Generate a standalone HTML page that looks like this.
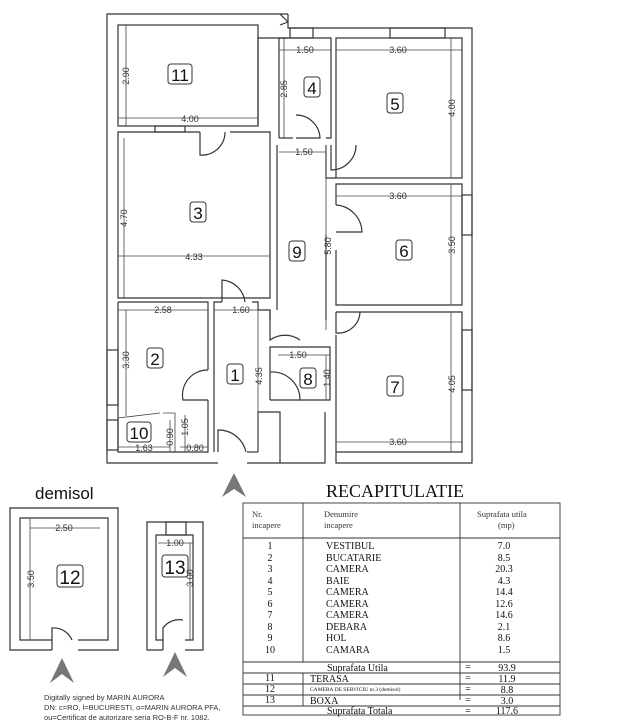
<!DOCTYPE html>
<html><head><meta charset="utf-8"><style>
html,body{margin:0;padding:0;background:#fff;}
svg{display:block;}
text{font-family:"Liberation Sans",sans-serif;}
.s, .s text{font-family:"Liberation Serif",serif;}
</style></head><body>
<svg width="618" height="720" viewBox="0 0 618 720" xmlns="http://www.w3.org/2000/svg">
<g fill="none" stroke="#333" stroke-width="1.2">
<polyline points="288,14 107,14 107,463 218,463"/>
<polyline points="247,463 325,463 325,412"/>
<polyline points="336,452 336,463 472,463 472,28 288,28 288,14"/>
<polyline points="258,126 258,38 288,38"/>
<rect x="118" y="25" width="140" height="101"/>
<line x1="280" y1="14" x2="288" y2="22"/><line x1="280" y1="25" x2="288" y2="22"/>
<polyline points="200,132 118,132 118,298 270,298 270,132 230,132"/>
<polyline points="279,138 279,38 331,38 331,138 326,138"/>
<line x1="279" y1="138" x2="293" y2="138"/>
<polyline points="277,145 277,310"/>
<polyline points="326,145 326,178 336,178"/>
<polyline points="326,235 326,320"/>
<rect x="336" y="38" width="126" height="140"/>
<polyline points="336,205 336,184 462,184 462,305 336,305 336,250"/>
<polyline points="336,335 336,452 462,452 462,312 336,312"/>
<polyline points="118,302 208,302 208,370"/>
<polyline points="208,400 208,452 118,452 118,302"/>
<polyline points="214,452 214,302 222,302"/>
<polyline points="252,302 258,302 258,310 270,310 270,320"/>
<polyline points="258,452 247,452"/>
<polyline points="258,452 258,412 270,412"/>
<polyline points="270,400 270,347 330,347 330,400 300,400"/>
<polyline points="270,412 280,412 280,463"/>
<rect x="155" y="126" width="30" height="6"/>
<rect x="290" y="28" width="23" height="10"/>
<rect x="390" y="28" width="55" height="10"/>
<rect x="462" y="195" width="10" height="40"/>
<rect x="462" y="330" width="10" height="60"/>
<rect x="107" y="350" width="11" height="55"/>
<rect x="107" y="420" width="11" height="30"/>
<path d="M200,132 L200,155 A23,23 0 0 0 225,132"/>
<path d="M296,138 L320,138 A24,24 0 0 0 296,115"/>
<path d="M331,145 L331,170 A25,25 0 0 0 356,145"/>
<path d="M336,205 A28,28 0 0 1 362,232 L336,232"/>
<path d="M336,312 L336,333 A22,22 0 0 0 360,312"/>
<path d="M222,302 L222,280 A25,25 0 0 1 245,302"/>
<path d="M270,310 L270,340 A26,26 0 0 1 300,340"/>
<path d="M208,400 L183,400 A25,25 0 0 1 208,370"/>
<path d="M270,400 L300,400 A28,28 0 0 0 270,372"/>
<path d="M218,452 L218,430 A28,28 0 0 1 246,452"/>
<polyline points="52,650 10,650 10,508 118,508 118,650 78,650"/>
<polyline points="52,640 20,640 20,518 108,518 108,640 78,640"/>
<path d="M52,650 L52,628 A20,20 0 0 1 72,640"/>
<polyline points="163,650 147,650 147,522 203,522 203,650 185,650"/>
<polyline points="163,640 156,640 156,535 193,535 193,640 185,640"/>
<rect x="166" y="522" width="20" height="13"/>
<path d="M163,650 L163,628 A20,20 0 0 1 183,620"/>
</g>
<g stroke="#444" stroke-width="0.8" fill="none">
<line x1="118" y1="118" x2="258" y2="118"/><line x1="126" y1="25" x2="126" y2="126"/>
<line x1="124" y1="138" x2="124" y2="298"/><line x1="118" y1="256" x2="270" y2="256"/>
<line x1="279" y1="50" x2="331" y2="50"/><line x1="284" y1="38" x2="284" y2="138"/>
<line x1="336" y1="50" x2="462" y2="50"/><line x1="451" y1="38" x2="451" y2="178"/>
<line x1="279" y1="152" x2="326" y2="152"/><line x1="326" y1="145" x2="326" y2="330"/>
<line x1="336" y1="196" x2="462" y2="196"/><line x1="451" y1="184" x2="451" y2="305"/>
<line x1="451" y1="312" x2="451" y2="452"/><line x1="336" y1="442" x2="462" y2="442"/>
<line x1="118" y1="310" x2="208" y2="310"/><line x1="126" y1="310" x2="126" y2="416"/>
<line x1="214" y1="310" x2="258" y2="310"/><line x1="258" y1="310" x2="258" y2="452"/>
<line x1="278" y1="355" x2="330" y2="355"/><line x1="326" y1="355" x2="326" y2="400"/>
<line x1="118" y1="447" x2="170" y2="447"/><line x1="180" y1="447" x2="208" y2="447"/>
<line x1="170" y1="420" x2="170" y2="452"/><line x1="185" y1="415" x2="185" y2="452"/>
<line x1="30" y1="528" x2="100" y2="528"/><line x1="30" y1="518" x2="30" y2="640"/>
<line x1="158" y1="543" x2="193" y2="543"/><line x1="190" y1="543" x2="190" y2="640"/>
<line x1="118" y1="418" x2="160" y2="413"/><polyline points="163,413 175,413 175,452"/>
</g>
<g font-size="9" fill="#333" text-anchor="middle">
<text x="190" y="122">4.00</text><text x="194" y="260">4.33</text>
<text x="305" y="53">1.50</text><text x="398" y="53">3.60</text>
<text x="304" y="155">1.50</text><text x="398" y="199">3.60</text>
<text x="398" y="445">3.60</text><text x="163" y="313">2.58</text>
<text x="241" y="313">1.60</text><text x="298" y="358">1.50</text>
<text x="144" y="451">1.63</text><text x="195" y="451">0.80</text>
<text x="64" y="531">2.50</text><text x="175" y="546">1.00</text>
<text transform="translate(129,76) rotate(-90)">2.90</text>
<text transform="translate(127,218) rotate(-90)">4.70</text>
<text transform="translate(287,89) rotate(-90)">2.85</text>
<text transform="translate(455,108) rotate(-90)">4.00</text>
<text transform="translate(455,245) rotate(-90)">3.50</text>
<text transform="translate(455,384) rotate(-90)">4.05</text>
<text transform="translate(331,246) rotate(-90)">5.80</text>
<text transform="translate(129,360) rotate(-90)">3.30</text>
<text transform="translate(262,376) rotate(-90)">4.35</text>
<text transform="translate(330,378) rotate(-90)">1.40</text>
<text transform="translate(173,437) rotate(-90)">0.90</text>
<text transform="translate(188,427) rotate(-90)">1.05</text>
<text transform="translate(34,579) rotate(-90)">3.50</text>
<text transform="translate(193,578) rotate(-90)">3.00</text>
</g>
<g font-size="17" fill="#111" text-anchor="middle">
<g stroke="#333" stroke-width="1" fill="none">
<rect x="168" y="64" width="24" height="20" rx="3"/><rect x="190" y="202" width="16" height="20" rx="3"/>
<rect x="304" y="77" width="16" height="20" rx="3"/><rect x="387" y="93" width="16" height="20" rx="3"/>
<rect x="289" y="241" width="16" height="20" rx="3"/><rect x="396" y="240" width="16" height="20" rx="3"/>
<rect x="387" y="376" width="16" height="20" rx="3"/><rect x="147" y="348" width="16" height="20" rx="3"/>
<rect x="227" y="364" width="16" height="20" rx="3"/><rect x="300" y="368" width="16" height="20" rx="3"/>
<rect x="127" y="422" width="24" height="20" rx="3"/><rect x="57" y="565" width="26" height="22" rx="3"/>
<rect x="162" y="555" width="26" height="22" rx="3"/>
</g>
<text x="180" y="81">11</text><text x="198" y="219">3</text><text x="312" y="94">4</text>
<text x="395" y="110">5</text><text x="297" y="258">9</text><text x="404" y="257">6</text>
<text x="395" y="393">7</text><text x="155" y="365">2</text><text x="235" y="381">1</text>
<text x="308" y="385">8</text><text x="139" y="439">10</text>
<text x="70" y="584" font-size="19">12</text><text x="175" y="574" font-size="19">13</text>
</g>
<g fill="#777">
<polygon points="234,473 222,497 234,489 246,497"/>
<polygon points="62,658 50,683 62,674 74,683"/>
<polygon points="175,652 163,677 175,668 187,677"/>
</g>
<text x="35" y="499" font-size="17" fill="#111">demisol</text>
<g class="s"><text x="395" y="497" font-size="18" text-anchor="middle" fill="#111">RECAPITULATIE</text></g>
<g stroke="#333" stroke-width="0.9" fill="none">
<rect x="243" y="503" width="317" height="212"/>
<line x1="243" y1="538" x2="560" y2="538"/>
<line x1="303" y1="503" x2="303" y2="662"/><line x1="460" y1="503" x2="460" y2="700"/>
<line x1="243" y1="662" x2="560" y2="662"/><line x1="243" y1="673" x2="560" y2="673"/>
<line x1="243" y1="684" x2="560" y2="684"/><line x1="243" y1="695" x2="560" y2="695"/>
<line x1="243" y1="706" x2="560" y2="706"/>
<line x1="303" y1="673" x2="303" y2="706"/>
</g>
<g class="s" font-size="10" fill="#111">
<g font-size="8.5" fill="#333">
<text x="252" y="517">Nr.</text><text x="252" y="528">incapere</text>
<text x="324" y="517">Denumire</text><text x="324" y="528">incapere</text>
<text x="477" y="517">Suprafata utila</text><text x="498" y="528">(mp)</text>
</g>
<g text-anchor="middle">
<text x="270" y="549">1</text><text x="270" y="561">2</text><text x="270" y="572">3</text><text x="270" y="584">4</text>
<text x="270" y="595">5</text><text x="270" y="607">6</text><text x="270" y="618">7</text><text x="270" y="630">8</text>
<text x="270" y="641">9</text><text x="270" y="653">10</text>
<text x="504" y="549">7.0</text><text x="504" y="561">8.5</text><text x="504" y="572">20.3</text><text x="504" y="584">4.3</text>
<text x="504" y="595">14.4</text><text x="504" y="607">12.6</text><text x="504" y="618">14.6</text><text x="504" y="630">2.1</text>
<text x="504" y="641">8.6</text><text x="504" y="653">1.5</text>
<text x="270" y="681">11</text><text x="270" y="692">12</text><text x="270" y="703">13</text>
<text x="507" y="671">93.9</text><text x="507" y="682">11.9</text><text x="507" y="693">8.8</text><text x="507" y="704">3.0</text><text x="507" y="714">117.6</text>
<text x="468" y="670">=</text><text x="468" y="681">=</text><text x="468" y="692">=</text><text x="468" y="703">=</text><text x="468" y="714">=</text>
</g>
<text x="326" y="549">VESTIBUL</text><text x="326" y="561">BUCATARIE</text><text x="326" y="572">CAMERA</text>
<text x="326" y="584">BAIE</text><text x="326" y="595">CAMERA</text><text x="326" y="607">CAMERA</text>
<text x="326" y="618">CAMERA</text><text x="326" y="630">DEBARA</text><text x="326" y="641">HOL</text><text x="326" y="653">CAMARA</text>
<text x="327" y="671">Suprafata Utila</text><text x="310" y="682">TERASA</text>
<text x="310" y="691" font-size="5.5">CAMERA DE SERVICIU nr.3 (demisol)</text>
<text x="310" y="704">BOXA</text><text x="327" y="714">Suprafata Totala</text>
</g>
<g font-size="7.5" fill="#333">
<text x="44" y="700">Digitally signed by MARIN AURORA</text>
<text x="44" y="710">DN: c=RO, l=BUCURESTI, o=MARIN AURORA PFA,</text>
<text x="44" y="720">ou=Certificat de autorizare seria RO-B-F nr. 1082,</text>
</g>
</svg>
</body></html>
